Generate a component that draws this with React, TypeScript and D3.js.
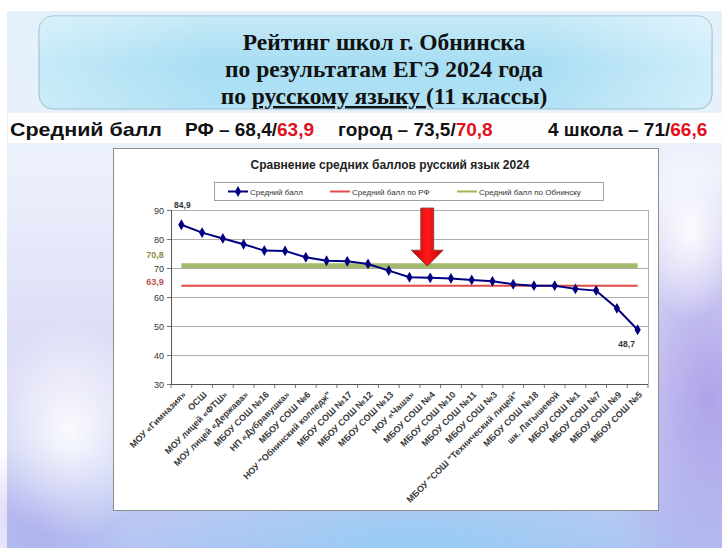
import React from "react";
import * as d3 from "d3";

const schools = [
  "МОУ «Гимназия»",
  "ОСШ",
  "МОУ лицей «ФТШ»",
  "МОУ лицей «Держава»",
  "МБОУ СОШ №16",
  "НП «Дубравушка»",
  "МБОУ СОШ №6",
  "НОУ \"Обнинский колледж\"",
  "МБОУ СОШ №17",
  "МБОУ СОШ №12",
  "МБОУ СОШ №13",
  "НОУ «Чаша»",
  "МБОУ СОШ №4",
  "МБОУ СОШ №10",
  "МБОУ СОШ №11",
  "МБОУ СОШ №3",
  "МБОУ \"СОШ \"Технический лицей\"",
  "МБОУ СОШ №18",
  "шк. Латышевой",
  "МБОУ СОШ №1",
  "МБОУ СОШ №7",
  "МБОУ СОШ №9",
  "МБОУ СОШ №5",
];
const avgScores = [
  84.9, 82.2, 80.2, 78.2, 76.0, 75.9, 73.7, 72.5, 72.3, 71.4, 69.1, 66.8,
  66.6, 66.4, 65.9, 65.4, 64.4, 63.9, 63.9, 62.8, 62.2, 56.1, 48.7,
];
const rfAvg = 63.9;
const cityAvg = 70.8;
const yTicks = [30, 40, 50, 60, 70, 80, 90];
const markedSchool = "МБОУ СОШ №4";

const titleLines = ["Рейтинг школ  г. Обнинска", "по результатам  ЕГЭ 2024 года"];
const chartTitle = "Сравнение средних баллов русский язык 2024";
const legendItems = ["Средний балл", "Средний балл по РФ", "Средний балл по Обнинску"];

const fmt = (v: number) => v.toFixed(1).replace(".", ",");

export default function App() {
  const W = 722,
    H = 548;
  const plot = { left: 171, right: 648, top: 210, bottom: 384 };

  const x = d3.scaleBand().domain(schools).range([plot.left, plot.right]);
  const y = d3.scaleLinear().domain([30, 90]).range([plot.bottom, plot.top]);
  const cx = (s: string) => (x(s) as number) + x.bandwidth() / 2;

  const pts = schools.map((s, i) => ({ s, v: avgScores[i] }));
  const line = d3
    .line<{ s: string; v: number }>()
    .x((d) => cx(d.s))
    .y((d) => y(d.v));
  const diamond = d3.symbol().type(d3.symbolDiamond).size(34)() as string;

  const x0 = cx(schools[0]);
  const x1 = cx(schools[schools.length - 1]);
  const first = pts[0];
  const last = pts[pts.length - 1];

  // arrow pointing to school №4
  const ax = cx(markedSchool) - 3;
  const tip = y(cityAvg) + 0.5;
  const arrow = [
    [ax - 6.5, 208],
    [ax + 6.5, 208],
    [ax + 6.5, tip - 16],
    [ax + 16, tip - 16],
    [ax, tip],
    [ax - 16, tip - 16],
    [ax - 6.5, tip - 16],
  ]
    .map((p) => p.join(","))
    .join(" ");

  const font = "Arial, 'Liberation Sans', sans-serif";

  return (
    <svg
      width={W}
      height={H}
      style={{ position: "absolute", left: 0, top: 0, display: "block" }}
      fontFamily={font}
    >
      <defs>
        <linearGradient id="bg" x1="0" y1="0" x2="0" y2="1">
          <stop offset="0" stopColor="#e2f1fb" />
          <stop offset="0.3" stopColor="#ecf0fb" />
          <stop offset="0.7" stopColor="#d8d8f5" />
          <stop offset="1" stopColor="#b4c4f2" />
        </linearGradient>
        <radialGradient id="blobBlue" cx="0.5" cy="0.5" r="0.5">
          <stop offset="0" stopColor="#94cdf4" stopOpacity="0.95" />
          <stop offset="1" stopColor="#94cdf4" stopOpacity="0" />
        </radialGradient>
        <radialGradient id="blobViolet" cx="0.5" cy="0.5" r="0.5">
          <stop offset="0" stopColor="#a99ee8" stopOpacity="0.9" />
          <stop offset="1" stopColor="#a99ee8" stopOpacity="0" />
        </radialGradient>
        <radialGradient id="blobWhite" cx="0.5" cy="0.5" r="0.5">
          <stop offset="0" stopColor="#ffffff" stopOpacity="0.9" />
          <stop offset="1" stopColor="#ffffff" stopOpacity="0" />
        </radialGradient>
        <linearGradient id="titleFill" x1="0" y1="0" x2="1" y2="0">
          <stop offset="0" stopColor="#c6eaf8" />
          <stop offset="0.25" stopColor="#a8def3" />
          <stop offset="0.75" stopColor="#a8def3" />
          <stop offset="1" stopColor="#d0edfa" />
        </linearGradient>
        <linearGradient id="titleShade" x1="0" y1="0" x2="0" y2="1">
          <stop offset="0" stopColor="#ffffff" stopOpacity="0.35" />
          <stop offset="0.5" stopColor="#ffffff" stopOpacity="0" />
          <stop offset="1" stopColor="#ffffff" stopOpacity="0.1" />
        </linearGradient>
        <linearGradient id="arrowFill" x1="0" y1="0" x2="1" y2="0">
          <stop offset="0" stopColor="#c00000" />
          <stop offset="0.5" stopColor="#ff1a1a" />
          <stop offset="1" stopColor="#c00000" />
        </linearGradient>
      </defs>

      {/* slide background */}
      <rect x={0} y={0} width={W} height={H} fill="#ffffff" />
      <rect x={7} y={11} width={W - 7} height={H - 11} fill="url(#bg)" />
      <ellipse cx={420} cy={545} rx={280} ry={75} fill="url(#blobBlue)" />
      <ellipse cx={710} cy={400} rx={110} ry={230} fill="url(#blobViolet)" />
      <ellipse cx={40} cy={520} rx={90} ry={80} fill="url(#blobViolet)" opacity={0.6} />
      <ellipse cx={70} cy={430} rx={90} ry={110} fill="url(#blobWhite)" />
      <ellipse cx={690} cy={230} rx={50} ry={90} fill="url(#blobWhite)" />

      {/* title box */}
      <rect x={39} y={16} width={673} height={93} rx={14} fill="url(#titleFill)" stroke="#93b9cc" strokeWidth={1} />
      <rect x={39} y={16} width={673} height={93} rx={14} fill="url(#titleShade)" />
      <g fontFamily="'Liberation Serif', 'Times New Roman', serif" fontWeight="bold" fontSize={23.5} fill="#111" textAnchor="middle">
        <text x={384} y={50}>{titleLines[0]}</text>
        <text x={384} y={77}>{titleLines[1]}</text>
        <text x={384} y={104}>
          по <tspan textDecoration="underline">русскому языку </tspan>(11 классы)
        </text>
      </g>

      {/* summary line */}
      <rect x={8} y={113} width={W - 8} height={30} fill="#ffffff" opacity={0.92} />
      <g fontWeight="bold" fontSize={19} fill="#111">
        <text x={10} y={136} textLength={152} lengthAdjust="spacingAndGlyphs">Средний балл</text>
        <text x={185} y={136}>
          РФ – 68,4/<tspan fill="#e3101d">63,9</tspan>
        </text>
        <text x={338} y={136}>
          город – 73,5/<tspan fill="#e3101d">70,8</tspan>
        </text>
        <text x={548} y={136}>
          4 школа – 71/<tspan fill="#e3101d">66,6</tspan>
        </text>
      </g>

      {/* chart frame */}
      <rect x={113.5} y={148.5} width={545} height={362} fill="#ffffff" stroke="#8c8c8c" strokeWidth={1} />
      <text x={390} y={169} textAnchor="middle" fontWeight="bold" fontSize={12} fill="#222">
        {chartTitle}
      </text>

      {/* legend */}
      <g fontSize={8} fill="#333">
        <rect x={214.5} y={182.5} width={389} height={18} fill="#fff" stroke="#8a8a8a" strokeWidth={0.8} />
        <line x1={228} x2={248} y1={191.5} y2={191.5} stroke="#000080" strokeWidth={2} />
        <path d={diamond} transform="translate(238,191.5)" fill="#000080" />
        <text x={250} y={194.5}>{legendItems[0]}</text>
        <line x1={330} x2={350} y1={191.5} y2={191.5} stroke="#e04a44" strokeWidth={2} />
        <text x={352} y={194.5}>{legendItems[1]}</text>
        <line x1={457} x2={477} y1={191.5} y2={191.5} stroke="#9bbb59" strokeWidth={2} />
        <text x={479} y={194.5}>{legendItems[2]}</text>
      </g>

      {/* grid */}
      {yTicks.map((t) => (
        <g key={t}>
          <line x1={plot.left} x2={plot.right} y1={y(t) + 0.5} y2={y(t) + 0.5} stroke="#9a9a9a" strokeWidth={0.8} />
          <line x1={plot.left - 4} x2={plot.left} y1={y(t) + 0.5} y2={y(t) + 0.5} stroke="#555" strokeWidth={0.8} />
          <text x={plot.left - 7} y={y(t) + 3.5} textAnchor="end" fontSize={9} fill="#333">
            {t}
          </text>
        </g>
      ))}
      <line x1={plot.right + 0.5} x2={plot.right + 0.5} y1={plot.top} y2={plot.bottom} stroke="#9a9a9a" strokeWidth={0.8} />
      <line x1={plot.left + 0.5} x2={plot.left + 0.5} y1={plot.top} y2={plot.bottom} stroke="#555" strokeWidth={1} />
      <line x1={plot.left} x2={plot.right} y1={plot.bottom + 0.5} y2={plot.bottom + 0.5} stroke="#555" strokeWidth={1} />
      {d3.range(schools.length + 1).map((i) => {
        const xx = plot.left + i * x.bandwidth();
        return <line key={i} x1={xx} x2={xx} y1={plot.bottom} y2={plot.bottom + 4} stroke="#555" strokeWidth={0.8} />;
      })}

      {/* reference lines */}
      <line x1={x0} x2={x1} y1={y(cityAvg)} y2={y(cityAvg)} stroke="#a2ba6c" strokeWidth={5} />
      <line x1={x0} x2={x1} y1={y(rfAvg)} y2={y(rfAvg)} stroke="#e04a44" strokeWidth={2} />
      <text x={155} y={y(cityAvg) - 8} textAnchor="middle" fontSize={9} fontWeight="bold" fill="#8c8a3e">
        {fmt(cityAvg)}
      </text>
      <text x={155} y={y(rfAvg) - 0.5} textAnchor="middle" fontSize={9} fontWeight="bold" fill="#c0504d">
        {fmt(rfAvg)}
      </text>

      {/* main series */}
      <path d={line(pts) as string} fill="none" stroke="#000080" strokeWidth={2} />
      {pts.map((d) => (
        <path key={d.s} d={diamond} transform={`translate(${cx(d.s)},${y(d.v)})`} fill="#000080" />
      ))}
      <text x={cx(first.s) + 1} y={y(first.v) - 17} textAnchor="middle" fontSize={8.5} fontWeight="bold" fill="#333">
        {fmt(first.v)}
      </text>
      <text x={cx(last.s) - 11} y={y(last.v) + 17} textAnchor="middle" fontSize={8.5} fontWeight="bold" fill="#333">
        {fmt(last.v)}
      </text>

      {/* arrow */}
      <polygon points={arrow} fill="url(#arrowFill)" stroke="#7a4040" strokeWidth={0.8} />

      {/* x labels */}
      <g fontSize={9} fontWeight="bold" fill="#3a3a3a">
        {schools.map((s) => (
          <text key={s} transform={`translate(${cx(s) + 3},${plot.bottom + 9}) rotate(-45)`} textAnchor="end" dy="0.35em">
            {s}
          </text>
        ))}
      </g>
    </svg>
  );
}
